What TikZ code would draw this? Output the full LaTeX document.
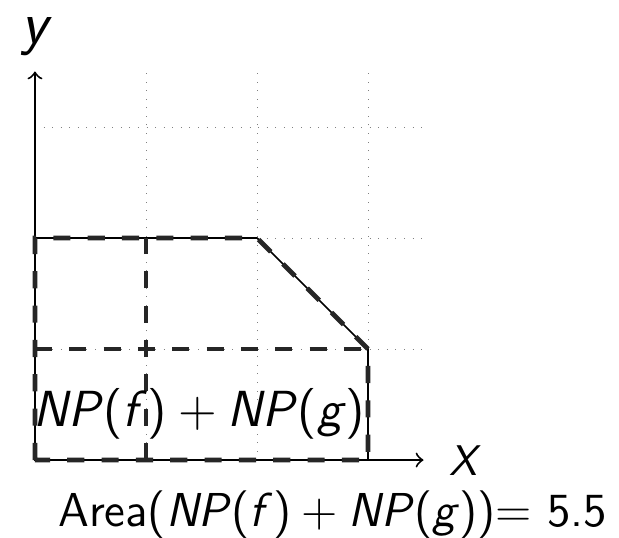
\documentclass[tikz,border=0pt]{standalone}
\usetikzlibrary{arrows}
\newcommand{\mybin}[1]{\kern0.22em#1\kern0.22em}
\begin{document}
\begin{tikzpicture}[
  gridline/.style={gray, very thin, dotted},
  axisline/.style={black, line width=0.5pt, ->, >=to},
  hullthin/.style={black, line width=0.4pt},
  hulldash/.style={black!85, line width=1.2pt, dash pattern=on 4.4pt off 4.4pt},
  lbl/.style={font=\sffamily, inner sep=0pt, anchor=base}
]
\useasboundingbox (-0.315,-0.694) rectangle (5.261,4.144);
\draw[gridline] (0,0) grid (3.5,3.5);
% named points
\coordinate (O) at (0,0);
\coordinate (A) at (0,2);
\coordinate (B) at (2,2);
\coordinate (C) at (3,1);
\coordinate (D) at (3,0);
\coordinate (E) at (1,0);
\coordinate (F) at (1,2);
\coordinate (G) at (0,1);
\coordinate (H) at (3,1);
\coordinate (xend) at (3.5,0);
\coordinate (yend) at (0,3.5);
% axes
\draw[axisline] (O) -- (xend);
\draw[axisline] (O) -- (yend);
% hull
\draw[hullthin] (O) -- (A) -- (B) -- (C) -- (D) -- cycle;
\draw[hulldash] (O) -- (A) -- (B) -- (C) -- (D) -- cycle;
\draw[hulldash] (E) -- (F);
\draw[hulldash] (G) -- (H);
% labels
\node[lbl, font=\sffamily\fontsize{15.5}{18}\selectfont\itshape] (ylab) at (0,3.75) {y};
\node[lbl, font=\sffamily\fontsize{11}{13}\selectfont\itshape] (xlab) at (3.86,-0.135) {X};
\node[lbl, font=\sffamily\fontsize{13}{16}\selectfont] (np) at (1.48,0.30)
  {\textit{NP}(\textit{f}\/)\mybin{+}\textit{NP}(\textit{g})};
\node[lbl, font=\sffamily\fontsize{12.2}{14}\selectfont] (area) at (2.68,-0.595)
  {Area(\textit{NP}(\textit{f}\/)\mybin{+}\textit{NP}(\textit{g}))= 5.5};
\end{tikzpicture}
\end{document}
